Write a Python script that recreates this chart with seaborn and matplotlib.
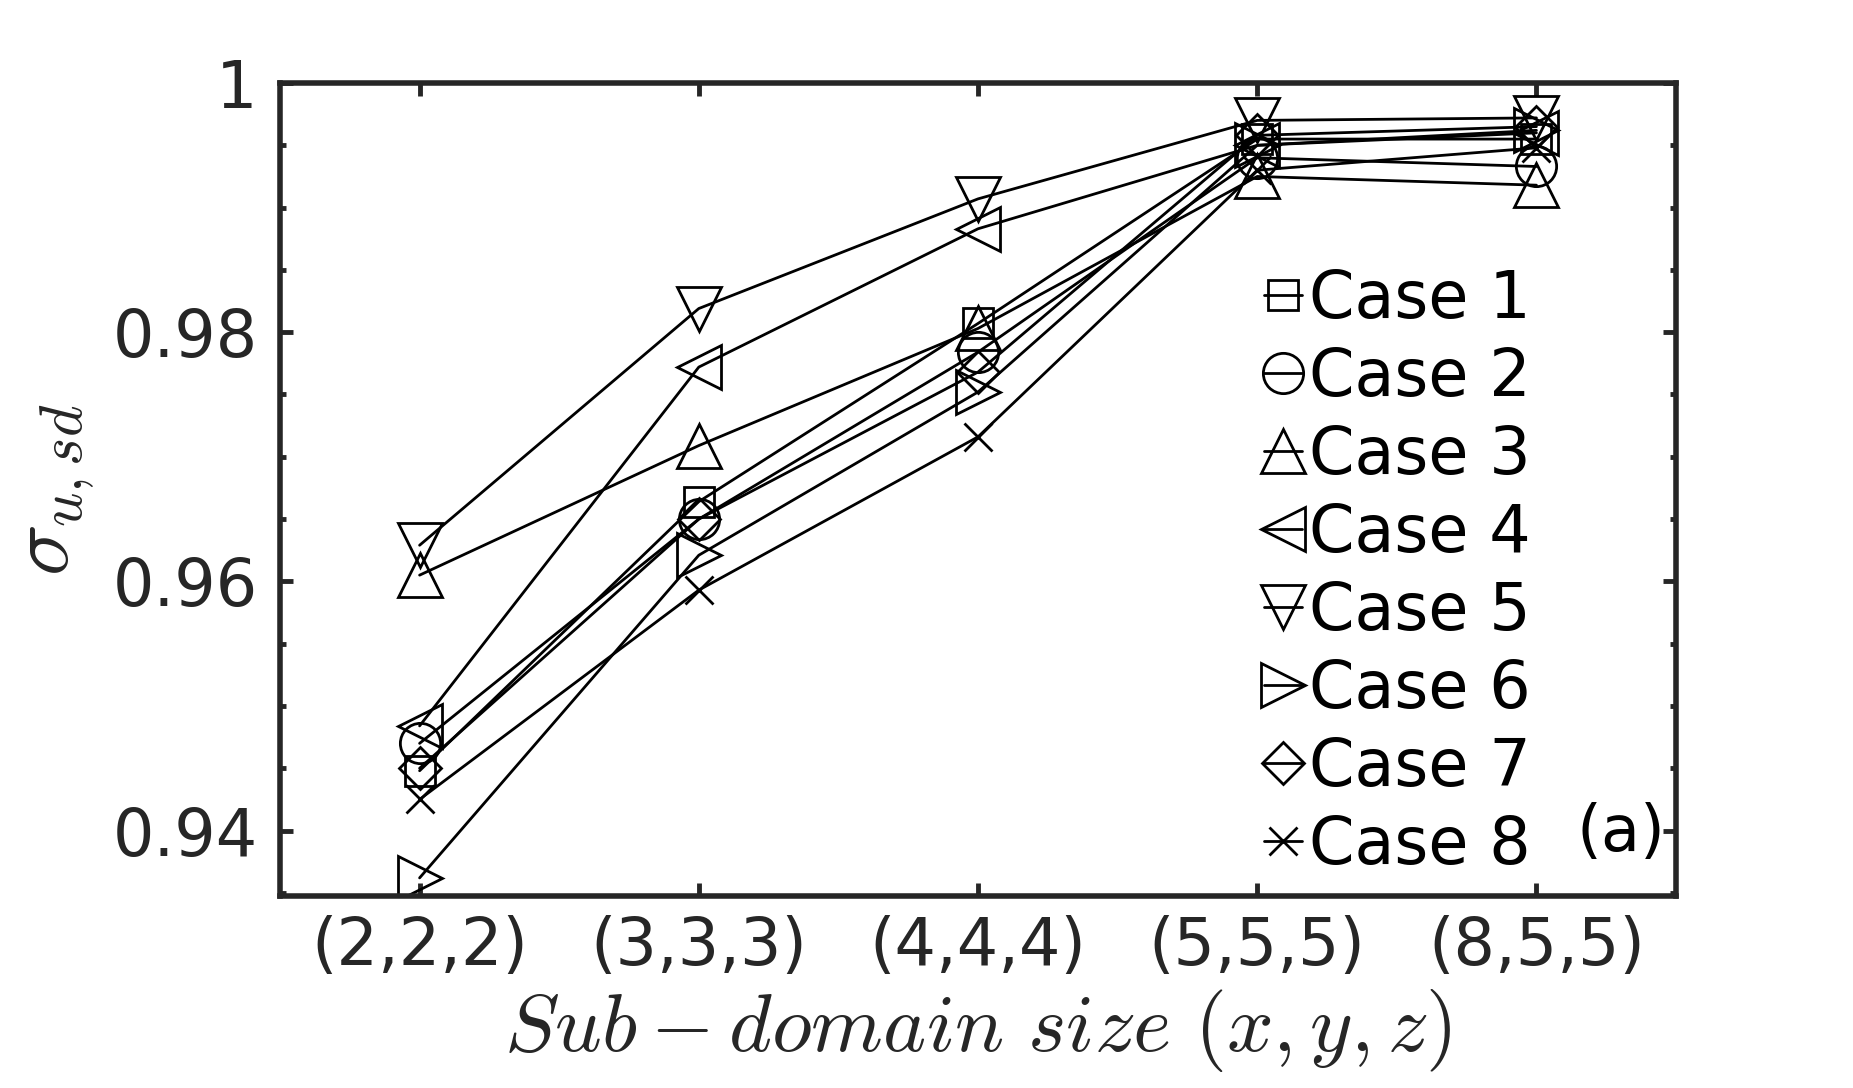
import pandas as pd
import numpy as np
import matplotlib
matplotlib.use("Agg")
import matplotlib.pyplot as plt
from matplotlib.ticker import MultipleLocator
import seaborn as sns

# sub-domain sizes on the x axis
sizes = ["(2,2,2)", "(3,3,3)", "(4,4,4)", "(5,5,5)", "(8,5,5)"]

case1 = [0.9448, 0.9664, 0.9807, 0.9955, 0.9955]
case2 = [0.9470, 0.9650, 0.9784, 0.9940, 0.9933]
case3 = [0.9605, 0.9709, 0.9803, 0.9925, 0.9918]
case4 = [0.9484, 0.9772, 0.9883, 0.9950, 0.9960]
case5 = [0.9629, 0.9819, 0.9907, 0.9970, 0.9972]
case6 = [0.9362, 0.9621, 0.9752, 0.9950, 0.9962]
case7 = [0.9450, 0.9650, 0.9768, 0.9958, 0.9965]
case8 = [0.9425, 0.9593, 0.9716, 0.9930, 0.9948]

case_names = ["Case 1", "Case 2", "Case 3", "Case 4",
              "Case 5", "Case 6", "Case 7", "Case 8"]
ytick_values = [0.94, 0.96, 0.98, 1.0]
ytick_labels = ["0.94", "0.96", "0.98", "1"]

# marker styles (MATLAB-like open markers)
markers = ["s", "o", "^", "<", "v", ">", "D", "x"]
marker_sizes = [22, 29, 31, 31, 31, 31, 21, 19.5]

DARK = "#262626"


def build_frame():
    all_cases = [case1, case2, case3, case4, case5, case6, case7, case8]
    rows = []
    for name, vals in zip(case_names, all_cases):
        for i, v in enumerate(vals):
            rows.append({"pos": i + 1, "size": sizes[i], "case": name, "sigma": v})
    return pd.DataFrame(rows)


def main():
    sns.set_theme(style="ticks")
    plt.rcParams["font.family"] = ["DejaVu Sans"]
    plt.rcParams["mathtext.fontset"] = "cm"

    df = build_frame()

    fig = plt.figure(figsize=(18.53, 10.88), dpi=100)
    ax = fig.add_axes([0.1511, 0.1765, 0.7534, 0.7472])

    sns.lineplot(data=df, x="pos", y="sigma", units="case", estimator=None,
                 color="black", linewidth=2.0, sort=False, legend=False, ax=ax)

    # seaborn won't mix filled and line-art markers, so set them per line
    lines = ax.get_lines()
    for line, mk, ms in zip(lines, markers, marker_sizes):
        line.set_marker(mk)
        line.set_markersize(ms)
        line.set_markerfacecolor("none")
        line.set_markeredgecolor("black")
        line.set_markeredgewidth(2.0)

    ax.set_xlim(0.5, 5.5)
    ax.set_ylim(0.93475, 1.0)
    ax.set_xticks(range(1, len(sizes) + 1))
    ax.set_xticklabels(sizes)
    ax.set_yticks(ytick_values)
    ax.set_yticklabels(ytick_labels)
    ax.yaxis.set_minor_locator(MultipleLocator(0.005))

    for sp in ax.spines.values():
        sp.set_visible(True)
        sp.set_linewidth(4)
        sp.set_color(DARK)

    ax.tick_params(axis="both", which="major", direction="in", length=9.5,
                   width=3.5, color=DARK, labelcolor=DARK, labelsize=47,
                   top=True, right=True)
    ax.tick_params(axis="y", which="minor", direction="in", length=4.5,
                   width=3.5, color=DARK, left=True, right=True)
    ax.tick_params(axis="y", which="major", pad=16)
    ax.tick_params(axis="x", which="major", pad=14)

    ax.set_xlabel(r"$Sub-domain\ size\ (x,y,z)$", fontsize=59, color=DARK)
    ax.xaxis.set_label_coords(0.5, -0.112)
    ax.set_ylabel(r"$\sigma_{u,sd}$", fontsize=62, color=DARK)
    ax.yaxis.set_label_coords(-0.131, 0.5)

    ax.legend(lines, case_names, loc="upper left",
              bbox_to_anchor=(0.682, 0.754), bbox_transform=fig.transFigure,
              frameon=False, fontsize=47, handlelength=0.58,
              handletextpad=0.12, labelspacing=0.215, borderpad=0,
              borderaxespad=0, numpoints=1, labelcolor="black")

    ax.text(0.9606, 0.0775, "(a)", transform=ax.transAxes, fontsize=46,
            ha="center", va="center", color="black")

    fig.savefig("out.png", dpi=100)
    plt.close(fig)


if __name__ == "__main__":
    main()
